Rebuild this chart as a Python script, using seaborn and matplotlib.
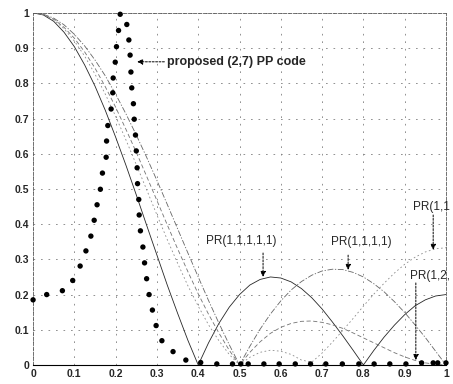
import matplotlib
matplotlib.use('Agg')
import matplotlib.pyplot as plt
import pandas as pd
import seaborn as sns

# normalised frequency axis used for the PR target responses
freq = [0.0, 0.025, 0.05, 0.075, 0.1, 0.125, 0.15, 0.175, 0.2, 0.225,
        0.25, 0.275, 0.3, 0.325, 0.35, 0.375, 0.4, 0.425, 0.45, 0.475,
        0.5, 0.525, 0.55, 0.575, 0.6, 0.625, 0.65, 0.675, 0.7, 0.725,
        0.75, 0.775, 0.8, 0.825, 0.85, 0.875, 0.9, 0.925, 0.95, 0.975, 1.0]

# magnitude responses
pr_11111 = [1.0, 0.994, 0.976, 0.945, 0.904, 0.852, 0.792, 0.723, 0.647, 0.567,
            0.483, 0.397, 0.312, 0.227, 0.147, 0.070, 0.0, 0.063, 0.118, 0.164,
            0.200, 0.227, 0.243, 0.250, 0.247, 0.236, 0.217, 0.191, 0.159, 0.122,
            0.083, 0.042, 0.0, 0.041, 0.079, 0.113, 0.143, 0.168, 0.185, 0.196, 0.200]
pr_1111 = [1.0, 0.996, 0.985, 0.966, 0.939, 0.906, 0.866, 0.821, 0.769, 0.713,
           0.653, 0.590, 0.524, 0.456, 0.387, 0.318, 0.250, 0.183, 0.119, 0.058,
           0.0, 0.053, 0.102, 0.145, 0.182, 0.213, 0.237, 0.255, 0.267, 0.272,
           0.271, 0.263, 0.250, 0.231, 0.208, 0.180, 0.149, 0.114, 0.078, 0.039, 0.0]
pr_12221 = [1.0, 0.995, 0.982, 0.959, 0.928, 0.889, 0.843, 0.790, 0.732, 0.669,
            0.604, 0.536, 0.467, 0.398, 0.330, 0.265, 0.202, 0.144, 0.091, 0.042,
            0.0, 0.036, 0.066, 0.090, 0.107, 0.118, 0.124, 0.125, 0.121, 0.114,
            0.104, 0.091, 0.077, 0.063, 0.049, 0.035, 0.023, 0.013, 0.006, 0.002, 0.0]
pr_11211 = [1.0, 0.995, 0.980, 0.955, 0.920, 0.877, 0.826, 0.769, 0.706, 0.639,
            0.569, 0.498, 0.426, 0.356, 0.289, 0.225, 0.167, 0.114, 0.069, 0.030,
            0.0, 0.022, 0.036, 0.042, 0.039, 0.030, 0.014, 0.008, 0.034, 0.065,
            0.098, 0.132, 0.167, 0.201, 0.232, 0.261, 0.286, 0.306, 0.321, 0.330, 0.333]

# proposed (2,7) PP code, dotted markers
pp_freq = [0.0, 0.033, 0.071, 0.096, 0.114, 0.128, 0.14, 0.148, 0.155, 0.163,
           0.168, 0.177, 0.178, 0.181, 0.189, 0.193, 0.194, 0.199, 0.202, 0.207,
           0.211, 0.227, 0.232, 0.235, 0.237, 0.239, 0.243, 0.245, 0.248, 0.25,
           0.252, 0.253, 0.256, 0.257, 0.26, 0.266, 0.27, 0.275, 0.281, 0.289,
           0.298, 0.312, 0.339, 0.37, 0.406, 0.445, 0.483, 0.503, 0.521, 0.559,
           0.596, 0.635, 0.672, 0.709, 0.749, 0.789, 0.826, 0.864, 0.903, 0.941,
           0.969, 0.98, 1.0]
pp_resp = [0.185, 0.2, 0.211, 0.24, 0.281, 0.324, 0.366, 0.411, 0.455, 0.499,
           0.545, 0.59, 0.636, 0.68, 0.727, 0.773, 0.815, 0.86, 0.904, 0.95,
           0.996, 0.967, 0.923, 0.88, 0.832, 0.787, 0.742, 0.698, 0.653, 0.608,
           0.56, 0.515, 0.47, 0.426, 0.381, 0.335, 0.29, 0.245, 0.2, 0.156,
           0.112, 0.069, 0.038, 0.014, 0.007, 0.003, 0.003, 0.003, 0.003, 0.003,
           0.003, 0.003, 0.003, 0.003, 0.003, 0.003, 0.003, 0.003, 0.003, 0.006,
           0.006, 0.006, 0.006]

targets = ['PR(1,1,1,1,1)', 'PR(1,1,1,1)', 'PR(1,2,2,2,1)', 'PR(1,1,2,1,1)']
df = pd.DataFrame({
    'f': freq * 4,
    'mag': pr_11111 + pr_1111 + pr_12221 + pr_11211,
    'target': [t for t in targets for _ in freq],
})

sns.set_style('white')
plt.rcParams['font.family'] = ['Liberation Sans', 'DejaVu Sans']

fig = plt.figure(figsize=(4.53, 3.84), dpi=100)
ax = fig.add_axes([0.073, 0.0495, 0.9115, 0.917])

dashes = {'PR(1,1,1,1,1)': '', 'PR(1,1,1,1)': (7, 2, 1.5, 2),
          'PR(1,2,2,2,1)': (5, 3), 'PR(1,1,2,1,1)': (2, 3)}
palette = {'PR(1,1,1,1,1)': '0.15', 'PR(1,1,1,1)': '0.4',
           'PR(1,2,2,2,1)': '0.45', 'PR(1,1,2,1,1)': '0.55'}
sns.lineplot(data=df, x='f', y='mag', hue='target', style='target',
             dashes=dashes, palette=palette, linewidth=0.6,
             errorbar=None, legend=False, ax=ax)

sns.scatterplot(x=pp_freq, y=pp_resp, color='k', s=15, edgecolor='none',
                clip_on=False, zorder=5, ax=ax)

ax.set_xlim(0, 1)
ax.set_ylim(0, 1)
ticks = [0, 0.1, 0.2, 0.3, 0.4, 0.5, 0.6, 0.7, 0.8, 0.9, 1]
labels = ['0', '0.1', '0.2', '0.3', '0.4', '0.5', '0.6', '0.7', '0.8', '0.9', '1']
ax.set_xticks(ticks, labels)
ax.set_yticks(ticks, labels)
ax.tick_params(labelsize=7.5, direction='in', length=2, width=0.5, pad=3)
for lab in ax.get_xticklabels() + ax.get_yticklabels():
    lab.set_fontweight('bold')
ax.set_xlabel('')
ax.set_ylabel('')
ax.grid(True, color='0.5', linestyle=(0, (2, 7)), linewidth=0.6)

for side in ['top', 'left', 'right']:
    ax.spines[side].set_linestyle((0, (4, 2)))
    ax.spines[side].set_linewidth(0.6)
    ax.spines[side].set_color('0.35')
ax.spines['bottom'].set_linewidth(0.8)
ax.spines['bottom'].set_color('k')

arrow = dict(arrowstyle='-|>', color='k', lw=0.7, linestyle=(0, (2, 1.5)),
             mutation_scale=8, shrinkA=0, shrinkB=0)

ax.annotate('', xy=(0.252, 0.861), xytext=(0.318, 0.861), arrowprops=arrow)
ax.text(0.324, 0.861, 'proposed (2,7) PP code', fontsize=9, fontweight='bold',
        ha='left', va='center')

ax.text(0.504, 0.352, 'PR(1,1,1,1,1)', fontsize=8.5, ha='center', va='center')
ax.annotate('', xy=(0.557, 0.25), xytext=(0.557, 0.318), arrowprops=arrow)

ax.text(0.794, 0.35, 'PR(1,1,1,1)', fontsize=8.5, ha='center', va='center')
ax.annotate('', xy=(0.763, 0.27), xytext=(0.763, 0.312), arrowprops=arrow)

ax.text(0.92, 0.45, 'PR(1,1', fontsize=8.5, ha='left', va='center')
ax.annotate('', xy=(0.969, 0.327), xytext=(0.969, 0.426), arrowprops=arrow)

ax.text(0.913, 0.253, 'PR(1,2,', fontsize=8.5, ha='left', va='center')
ax.annotate('', xy=(0.927, 0.014), xytext=(0.927, 0.233), arrowprops=arrow)

fig.savefig('out.png', dpi=100)
